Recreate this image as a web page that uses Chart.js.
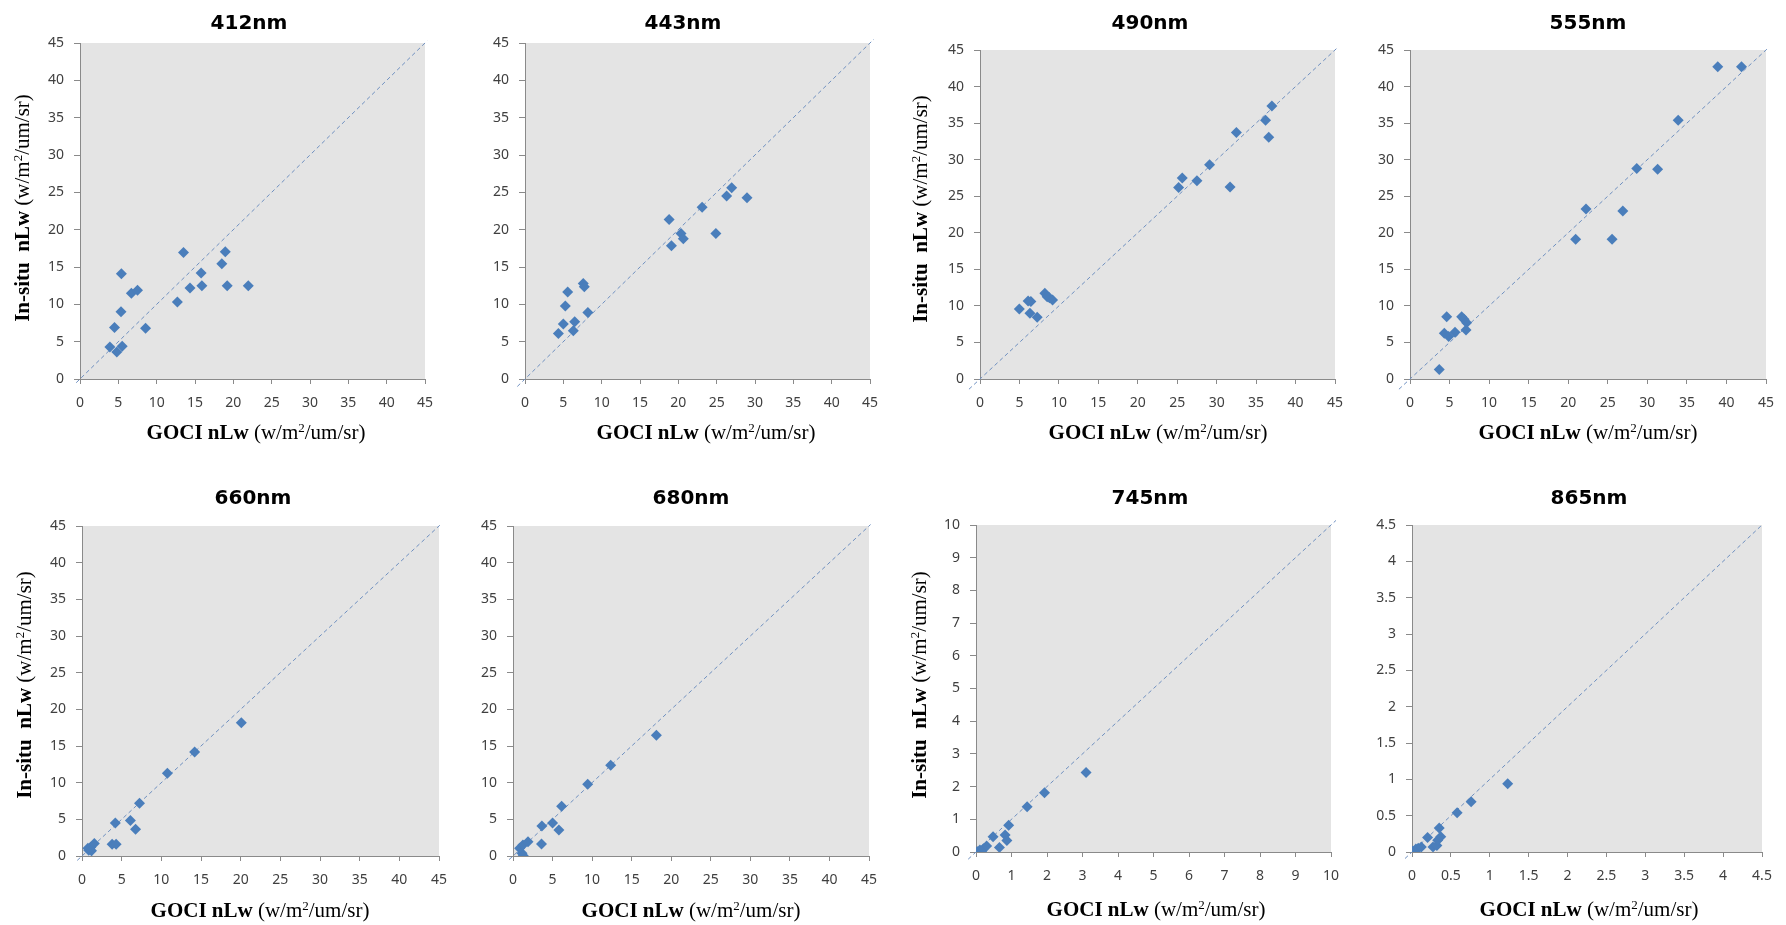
<!DOCTYPE html>
<html>
<head>
<meta charset="utf-8">
<title>GOCI vs In-situ nLw</title>
<script src="https://cdn.jsdelivr.net/npm/chart.js@4.4.1/dist/chart.umd.min.js"></script>
<style>
  html, body { margin: 0; padding: 0; background: #ffffff; width: 1786px; height: 925px; overflow: hidden; position: relative; }
  canvas { position: absolute; }
</style>
</head>
<body>
<script>
// ---- Bands ----
const bands = ['412nm', '443nm', '490nm', '555nm', '660nm', '680nm', '745nm', '865nm'];

// ---- Matchups: GOCI nLw (x) vs in-situ nLw (y), w/m2/um/sr ----
const goci412   = [3.9, 4.5, 4.8, 5.5, 5.35, 5.4, 6.7, 7.5, 8.55, 12.7, 13.5, 14.35, 15.8, 15.9, 18.5, 18.95, 19.2, 21.95];
const insitu412 = [4.3, 6.9, 3.6, 4.4, 9.0, 14.1, 11.5, 11.9, 6.8, 10.3, 16.95, 12.2, 14.2, 12.5, 15.45, 17.05, 12.5, 12.5];

const goci443   = [4.35, 5.0, 5.26, 5.57, 6.3, 6.48, 7.6, 7.74, 8.2, 18.8, 19.1, 20.35, 20.65, 23.1, 24.9, 26.3, 26.96, 28.96];
const insitu443 = [6.1, 7.35, 9.77, 11.65, 6.47, 7.67, 12.8, 12.35, 8.9, 21.36, 17.85, 19.5, 18.8, 23.0, 19.5, 24.5, 25.6, 24.26];

const goci490   = [4.98, 6.1, 6.45, 6.33, 7.25, 8.22, 8.52, 8.8, 9.2, 25.18, 25.64, 27.5, 29.1, 31.7, 32.5, 36.2, 36.6, 37.0];
const insitu490 = [9.58, 10.67, 10.6, 8.98, 8.44, 11.72, 11.26, 11.1, 10.8, 26.2, 27.5, 27.1, 29.3, 26.27, 33.7, 35.4, 33.06, 37.35];

const goci555   = [3.7, 4.34, 4.64, 4.89, 5.69, 6.53, 6.83, 7.16, 7.08, 20.94, 22.25, 25.54, 26.9, 28.66, 31.3, 33.9, 38.9, 41.9];
const insitu555 = [1.3, 6.25, 8.53, 5.8, 6.38, 8.53, 8.16, 7.7, 6.7, 19.1, 23.26, 19.1, 22.98, 28.8, 28.7, 35.4, 42.7, 42.7];

const goci660   = [0.75, 0.85, 1.1, 1.2, 1.55, 3.8, 4.3, 4.2, 6.1, 6.75, 7.25, 10.76, 14.2, 20.08];
const insitu660 = [1.05, 0.8, 1.2, 0.7, 1.7, 1.6, 1.6, 4.5, 4.85, 3.65, 7.2, 11.27, 14.18, 18.18];

const goci680   = [0.84, 1.14, 1.26, 1.3, 1.9, 3.6, 3.65, 5.0, 5.8, 6.15, 9.44, 12.35, 18.12];
const insitu680 = [1.05, 0.37, 1.5, 0.05, 1.95, 1.62, 4.1, 4.5, 3.55, 6.8, 9.77, 12.36, 16.45];

const goci745   = [0.04, 0.11, 0.16, 0.21, 0.3, 0.48, 0.66, 0.82, 0.87, 0.92, 1.44, 1.93, 3.1];
const insitu745 = [0.01, 0.06, 0.02, 0.1, 0.18, 0.47, 0.14, 0.52, 0.35, 0.82, 1.38, 1.81, 2.43];

const goci865   = [0.01, 0.05, 0.08, 0.12, 0.2, 0.27, 0.32, 0.33, 0.35, 0.37, 0.58, 0.76, 1.23];
const insitu865 = [0.01, 0.04, 0.05, 0.07, 0.2, 0.07, 0.09, 0.16, 0.33, 0.21, 0.54, 0.69, 0.94];

// ---- 1:1 reference line end values (same for x and y) ----
const oneToOne412 = [-0.5, 45.3];
const oneToOne443 = [-1.0, 45.5];
const oneToOne490 = [-1.4, 45.2];
const oneToOne555 = [-1.4, 45.2];
const oneToOne660 = [-0.6, 45.1];
const oneToOne680 = [-0.5, 45.2];
const oneToOne745 = [-0.22, 10.14];
const oneToOne865 = [-0.09, 4.5];

// ---- Axis tick labels ----
const ticks45  = [0, 5, 10, 15, 20, 25, 30, 35, 40, 45];
const ticks10  = [0, 1, 2, 3, 4, 5, 6, 7, 8, 9, 10];
const ticks4p5 = [0, 0.5, 1, 1.5, 2, 2.5, 3, 3.5, 4, 4.5];

// ---- Axis titles ----
const xTitleBold = 'GOCI nLw';
const yTitleBold = 'In-situ  nLw';
const unitPre = '(w/m';
const unitSup = '2';
const unitPost = '/um/sr)';

const series = [
  { x: goci412, y: insitu412, line: oneToOne412, ticks: ticks45 },
  { x: goci443, y: insitu443, line: oneToOne443, ticks: ticks45 },
  { x: goci490, y: insitu490, line: oneToOne490, ticks: ticks45 },
  { x: goci555, y: insitu555, line: oneToOne555, ticks: ticks45 },
  { x: goci660, y: insitu660, line: oneToOne660, ticks: ticks45 },
  { x: goci680, y: insitu680, line: oneToOne680, ticks: ticks45 },
  { x: goci745, y: insitu745, line: oneToOne745, ticks: ticks10 },
  { x: goci865, y: insitu865, line: oneToOne865, ticks: ticks4p5 }
];

// ---- Page layout of each panel (page pixels) ----
// plot: [left, top, right, bottom] of the grey plot area
const panelBoxes = [
  { plot: [80, 43, 425, 379],    title: [249, 22],   xTitle: [256, 432],  yTitle: [22, 208] },
  { plot: [525, 43, 870, 379],   title: [683, 22],   xTitle: [706, 432],  yTitle: null },
  { plot: [980, 50, 1335, 379],  title: [1150, 22],  xTitle: [1158, 432], yTitle: [920, 209] },
  { plot: [1410, 50, 1766, 379], title: [1588, 22],  xTitle: [1588, 432], yTitle: null },
  { plot: [82, 526, 439, 856],   title: [253, 497],  xTitle: [260, 910],  yTitle: [24, 685] },
  { plot: [513, 526, 869, 856],  title: [691, 497],  xTitle: [691, 910],  yTitle: null },
  { plot: [976, 525, 1331, 852], title: [1150, 497], xTitle: [1156, 909], yTitle: [919, 685] },
  { plot: [1412, 525, 1762, 852],title: [1589, 497], xTitle: [1589, 909], yTitle: null }
];

const PLOT_BG = '#e4e4e4';
const AXIS_COLOR = '#8a8a8a';
const TICK_COLOR = '#3f3f3f';
const MARKER_COLOR = '#4a7ebb';
const LINE_COLOR = '#6f90c0';
const SERIF = '"Liberation Serif", "Times New Roman", serif';
const SANS = '"Noto Sans", "Liberation Sans", sans-serif';
const TITLE_SANS = '"DejaVu Sans", "Noto Sans", sans-serif';

Chart.defaults.font.family = SANS;

// Draws a run of differently styled text pieces centred on (cx, cy) (cap-height centre)
function drawRichText(ctx, pieces, cx, cy, angle) {
  ctx.save();
  ctx.translate(cx, cy);
  ctx.rotate(angle);
  ctx.textBaseline = 'alphabetic';
  ctx.textAlign = 'left';
  let total = 0;
  pieces.forEach(p => { ctx.font = p.font; p.w = ctx.measureText(p.text).width; total += p.w; });
  let x = -total / 2;
  const base = 7;
  pieces.forEach(p => {
    ctx.font = p.font;
    ctx.fillStyle = '#000000';
    ctx.fillText(p.text, x, base + (p.dy || 0));
    x += p.w;
  });
  ctx.restore();
}

function unitPieces(boldText) {
  return [
    { text: boldText + ' ', font: 'bold 21px ' + SERIF },
    { text: unitPre, font: '21px ' + SERIF },
    { text: unitSup, font: '13px ' + SERIF, dy: -7 },
    { text: unitPost, font: '21px ' + SERIF }
  ];
}

// Plot-area fill, panel title and axis titles
const panelDecor = {
  id: 'panelDecor',
  beforeDraw(chart, args, opts) {
    const a = chart.chartArea;
    const ctx = chart.ctx;
    ctx.save();
    ctx.fillStyle = PLOT_BG;
    ctx.fillRect(a.left, a.top, a.right - a.left, a.bottom - a.top);
    ctx.restore();
  },
  afterDraw(chart, args, opts) {
    const ctx = chart.ctx;
    const ox = opts.origin[0], oy = opts.origin[1];
    // panel title
    ctx.save();
    ctx.font = 'bold 20px ' + TITLE_SANS;
    ctx.fillStyle = '#000000';
    ctx.textAlign = 'center';
    ctx.textBaseline = 'alphabetic';
    ctx.fillText(opts.title, opts.titlePos[0] - ox, opts.titlePos[1] - oy + 7);
    ctx.restore();
    // x axis title
    drawRichText(ctx, unitPieces(xTitleBold), opts.xTitlePos[0] - ox, opts.xTitlePos[1] - oy, 0);
    // y axis title
    if (opts.yTitlePos) {
      drawRichText(ctx, unitPieces(yTitleBold), opts.yTitlePos[0] - ox, opts.yTitlePos[1] - oy, -Math.PI / 2);
    }
  }
};

const M = { left: 80, top: 48, right: 30, bottom: 80 };
const Y_AXIS_W = 40, X_AXIS_H = 40;

function axisOptions(tickValues, isX) {
  const hi = tickValues[tickValues.length - 1];
  return {
    type: 'linear',
    min: tickValues[0],
    max: hi,
    afterBuildTicks(scale) { scale.ticks = tickValues.map(v => ({ value: v })); },
    afterFit(scale) {
      if (isX) { scale.height = X_AXIS_H; scale.paddingLeft = 0; scale.paddingRight = 0; }
      else { scale.width = Y_AXIS_W; scale.paddingTop = 0; scale.paddingBottom = 0; }
    },
    ticks: {
      autoSkip: false,
      maxRotation: 0,
      padding: isX ? 11 : 10,
      color: TICK_COLOR,
      font: { size: 14, family: SANS },
      callback: v => String(v)
    },
    grid: { display: true, drawOnChartArea: false, drawTicks: true, tickLength: isX ? 5 : 6, color: AXIS_COLOR, lineWidth: 1 },
    border: { display: true, color: AXIS_COLOR, width: 1 }
  };
}

bands.forEach((band, i) => {
  const box = panelBoxes[i];
  const s = series[i];
  const [L, T, R, B] = box.plot;
  const x0 = L - M.left, y0 = T - M.top;
  const W = R - L + M.left + M.right, H = B - T + M.top + M.bottom;

  const cv = document.createElement('canvas');
  cv.width = W; cv.height = H;
  cv.style.left = x0 + 'px'; cv.style.top = y0 + 'px';
  cv.style.width = W + 'px'; cv.style.height = H + 'px';
  document.body.appendChild(cv);

  const points = s.x.map((xv, k) => ({ x: xv, y: s.y[k] }));
  const diag = s.line.map(v => ({ x: v, y: v }));

  new Chart(cv, {
    type: 'scatter',
    data: {
      datasets: [
        {
          label: band,
          data: points,
          pointStyle: 'rectRot',
          pointRadius: 5.5,
          pointHoverRadius: 5.5,
          backgroundColor: MARKER_COLOR,
          borderColor: MARKER_COLOR,
          borderWidth: 0,
          order: 1
        },
        {
          label: '1:1',
          type: 'line',
          data: diag,
          showLine: true,
          fill: false,
          borderColor: LINE_COLOR,
          borderWidth: 1,
          borderDash: [4, 3],
          pointRadius: 0,
          clip: false,
          order: 2
        }
      ]
    },
    options: {
      responsive: false,
      animation: false,
      devicePixelRatio: 1,
      layout: { padding: { left: M.left - Y_AXIS_W, top: M.top, right: M.right, bottom: M.bottom - X_AXIS_H } },
      plugins: {
        legend: { display: false },
        title: { display: false },
        tooltip: { enabled: false },
        panelDecor: {
          origin: [x0, y0],
          title: band,
          titlePos: box.title,
          xTitlePos: box.xTitle,
          yTitlePos: box.yTitle
        }
      },
      scales: {
        x: axisOptions(s.ticks, true),
        y: axisOptions(s.ticks, false)
      }
    },
    plugins: [panelDecor]
  });
});
</script>
</body>
</html>
